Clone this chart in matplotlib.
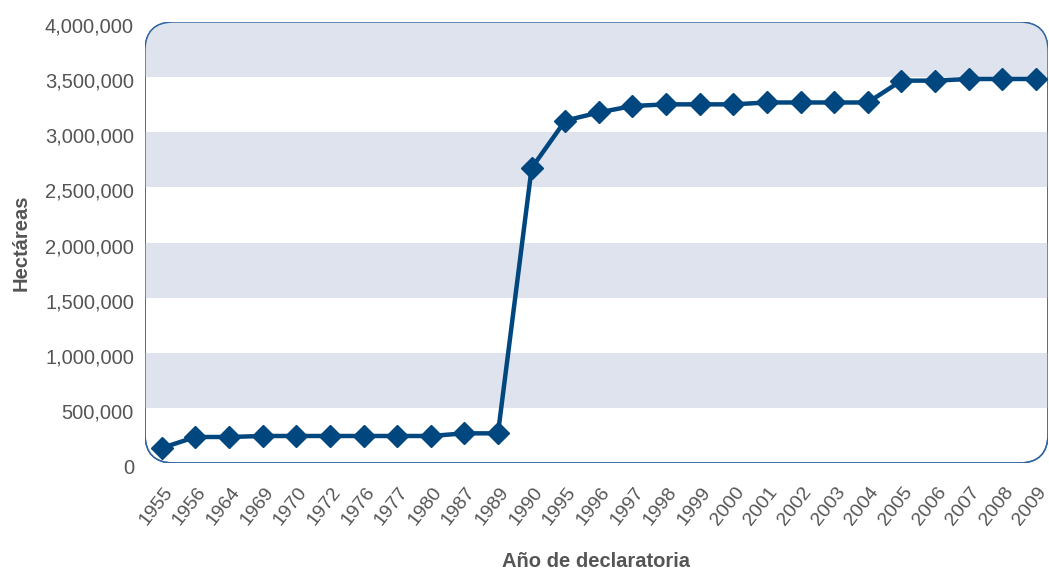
import matplotlib
matplotlib.use("Agg")
import matplotlib.pyplot as plt
from matplotlib.patches import FancyBboxPatch, Rectangle
from matplotlib.ticker import FuncFormatter
from matplotlib.transforms import ScaledTranslation

years = ["1955", "1956", "1964", "1969", "1970", "1972", "1976", "1977", "1980",
         "1987", "1989", "1990", "1995", "1996", "1997", "1998", "1999", "2000",
         "2001", "2002", "2003", "2004", "2005", "2006", "2007", "2008", "2009"]
hectareas = [136000, 236000, 236000, 245000, 245000, 245000, 245000, 245000, 245000,
             269000, 269000, 2675000, 3105000, 3180000, 3238000, 3253000, 3253000, 3253000,
             3270000, 3270000, 3270000, 3270000, 3468000, 3468000, 3483000, 3483000, 3483000]
y_ticks = [0, 500000, 1000000, 1500000, 2000000, 2500000, 3000000, 3500000, 4000000]

plt.rcParams['font.family'] = ['Liberation Sans', 'DejaVu Sans']
LINE = "#00467f"
BAND = "#dfe3ee"
TEXT = "#555555"

fig = plt.figure(figsize=(10.49, 5.75), dpi=100)
ax = fig.add_axes([145/1049, 1-463/575, 903/1049, 441/575])

x = list(range(len(years)))
ax.set_xlim(-0.5, len(years) - 1 + 0.36)
ax.set_ylim(0, 4000000)

# rounded plot frame
w_px, h_px = 903, 441
frame = FancyBboxPatch((0, 0), 1, 1, boxstyle="round,pad=0,rounding_size=0.032",
                       mutation_aspect=w_px / h_px, transform=ax.transAxes,
                       facecolor="white", edgecolor="#2f64a0", linewidth=1.0, zorder=0)
ax.add_patch(frame)
for i in range(1, len(y_ticks), 2):
    r = Rectangle((-10, y_ticks[i]), 100, y_ticks[i + 1] - y_ticks[i] if i + 1 < len(y_ticks) else 500000,
                  facecolor=BAND, edgecolor="none", zorder=0.5)
    ax.add_patch(r)
    r.set_clip_path(frame)
border = FancyBboxPatch((0, 0), 1, 1, boxstyle="round,pad=0,rounding_size=0.032",
                        mutation_aspect=w_px / h_px, transform=ax.transAxes,
                        facecolor="none", edgecolor="#2f64a0", linewidth=1.0, zorder=1)
ax.add_patch(border)

ax.plot(x, hectareas, color=LINE, linewidth=3.2, marker="D", markersize=11,
        markeredgecolor=LINE, markerfacecolor=LINE, zorder=3, clip_on=False)

for s in ax.spines.values():
    s.set_visible(False)
ax.set_facecolor("none")

ax.set_yticks(y_ticks)
ax.yaxis.set_major_formatter(FuncFormatter(lambda v, p: f"{int(v):,}"))
ax.tick_params(axis="y", length=0, pad=8, labelsize=14.5, labelcolor=TEXT)
ax.set_xticks(x)
ax.set_xticklabels(years, rotation=52, ha="right", rotation_mode="anchor")
ax.tick_params(axis="x", length=0, pad=15, labelsize=14, labelcolor=TEXT)
offset = ScaledTranslation(1/100, 0, fig.dpi_scale_trans)
for lab in ax.get_xticklabels():
    lab.set_transform(lab.get_transform() + offset)
yoff = ScaledTranslation(0, -3/100, fig.dpi_scale_trans)
for lab in ax.get_yticklabels():
    lab.set_transform(lab.get_transform() + yoff)

ax.set_ylabel("Hectáreas", fontsize=14.5, fontweight="bold", color=TEXT, labelpad=10)
ax.set_xlabel("Año de declaratoria", fontsize=14.5, fontweight="bold", color=TEXT, labelpad=17)

fig.savefig("out.png", dpi=100)
